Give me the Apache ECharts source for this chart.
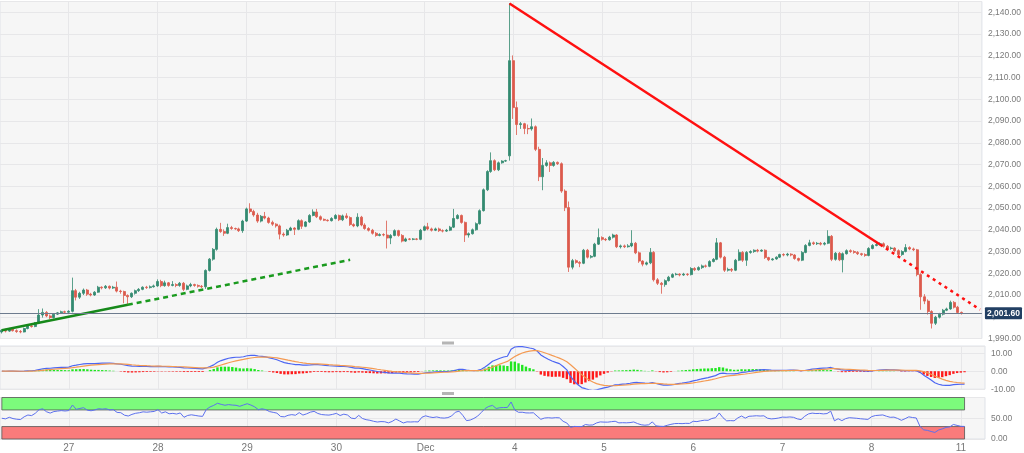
<!DOCTYPE html>
<html>
<head>
<meta charset="utf-8">
<script src="https://cdn.jsdelivr.net/npm/echarts@6.0.0/dist/echarts.min.js"></script>
<style>
  html, body { margin: 0; padding: 0; background: #fff; }
  #chart { width: 1024px; height: 453px; }
</style>
</head>
<body>
<div id="chart"></div>
<script>
// hourly bars, [open, close, low, high], grouped by the day label they fall under
const barsNov24 = [
  [1993.0, 1993.8, 1992.3, 1994.3], [1993.8, 1993.4, 1992.8, 1994.5], [1993.4, 1994.4, 1993.0, 1994.9],
  [1994.4, 1993.6, 1993.2, 1995.0], [1993.6, 1993.2, 1992.6, 1994.2], [1993.2, 1993.0, 1992.4, 1993.9],
  [1993.0, 1994.6, 1992.8, 1995.0], [1994.6, 1995.8, 1994.2, 1996.2], [1995.8, 1995.5, 1995.0, 1996.6],
  [1995.5, 1997.2, 1995.2, 1997.6], [1997.2, 2000.8, 1996.8, 2003.5], [2000.8, 2002.0, 1999.6, 2003.8],
  [2002.0, 2000.4, 1999.8, 2002.6], [2000.4, 1999.6, 1999.0, 2001.0], [1999.6, 2001.2, 1999.2, 2001.6],
  [2001.2, 2001.8, 2000.8, 2002.2], [2001.8, 2002.3, 2001.4, 2002.8], [2002.3, 2002.1, 2001.6, 2002.8]
];
const barsNov27 = [
  [2002.1, 2002.5, 2001.8, 2003.0], [2002.5, 2012.0, 2002.0, 2018.0], [2012.0, 2009.0, 2007.5, 2012.8],
  [2009.0, 2010.8, 2008.2, 2011.5], [2010.8, 2012.3, 2010.0, 2013.0], [2012.3, 2010.4, 2009.6, 2012.8],
  [2010.4, 2010.0, 2009.4, 2011.0], [2010.0, 2011.3, 2009.6, 2011.8], [2011.3, 2013.6, 2011.0, 2014.2],
  [2013.6, 2013.3, 2012.6, 2014.0], [2013.3, 2014.0, 2012.8, 2014.6], [2014.0, 2013.2, 2012.6, 2014.4],
  [2013.2, 2013.6, 2012.8, 2014.2], [2013.6, 2011.8, 2011.2, 2016.2], [2011.8, 2011.6, 2010.6, 2012.4],
  [2011.6, 2009.8, 2006.2, 2012.0], [2009.8, 2009.2, 2005.4, 2010.3], [2009.2, 2010.8, 2008.6, 2011.2],
  [2010.8, 2012.0, 2010.2, 2012.5], [2012.0, 2012.6, 2011.4, 2013.2], [2012.6, 2013.6, 2012.2, 2014.0],
  [2013.6, 2013.4, 2012.8, 2014.2], [2013.4, 2013.8, 2013.0, 2014.4], [2013.8, 2014.2, 2013.4, 2014.8]
];
const barsNov28 = [
  [2014.2, 2016.2, 2013.8, 2017.2], [2016.2, 2014.3, 2013.6, 2017.0], [2014.3, 2015.6, 2013.8, 2016.6],
  [2015.6, 2014.4, 2013.8, 2016.0], [2014.4, 2014.8, 2014.0, 2016.4], [2014.8, 2014.4, 2013.6, 2015.4],
  [2014.4, 2015.4, 2013.8, 2016.0], [2015.4, 2012.6, 2011.8, 2016.0], [2012.6, 2014.2, 2012.2, 2014.8],
  [2014.2, 2014.8, 2013.6, 2015.6], [2014.8, 2014.4, 2013.8, 2015.2], [2014.4, 2014.0, 2013.4, 2014.9],
  [2014.0, 2013.8, 2013.2, 2014.6], [2013.8, 2021.3, 2012.8, 2021.8], [2021.3, 2026.5, 2020.8, 2027.0],
  [2026.5, 2031.0, 2025.8, 2031.6], [2031.0, 2040.2, 2030.4, 2041.0], [2040.2, 2039.2, 2038.6, 2043.2],
  [2039.2, 2038.4, 2037.2, 2040.2], [2038.4, 2041.0, 2038.0, 2042.8], [2041.0, 2040.6, 2040.0, 2041.8],
  [2040.6, 2040.4, 2040.0, 2041.0], [2040.4, 2039.6, 2039.0, 2041.0], [2039.6, 2044.0, 2038.6, 2044.6]
];
const barsNov29 = [
  [2044.0, 2049.6, 2043.6, 2050.2], [2049.6, 2048.4, 2047.6, 2052.2], [2048.4, 2046.8, 2046.0, 2049.2],
  [2046.8, 2044.0, 2043.2, 2047.8], [2044.0, 2046.2, 2043.4, 2046.8], [2046.2, 2045.4, 2044.8, 2048.2],
  [2045.4, 2043.4, 2042.8, 2046.0], [2043.4, 2042.6, 2041.8, 2044.2], [2042.6, 2041.8, 2041.0, 2043.0],
  [2041.8, 2038.0, 2035.6, 2042.4], [2038.0, 2037.6, 2036.8, 2038.8], [2037.6, 2039.8, 2037.2, 2040.4],
  [2039.8, 2040.8, 2039.4, 2041.4], [2040.8, 2040.2, 2037.6, 2041.2], [2040.2, 2044.2, 2039.8, 2044.8],
  [2044.2, 2041.6, 2040.4, 2044.8], [2041.6, 2043.6, 2041.2, 2044.0], [2043.6, 2046.6, 2043.2, 2047.2],
  [2046.6, 2048.2, 2046.2, 2049.4], [2048.2, 2046.0, 2045.4, 2049.6], [2046.0, 2044.8, 2044.2, 2046.6],
  [2044.8, 2044.4, 2044.0, 2045.2], [2044.4, 2044.2, 2043.8, 2044.8], [2044.2, 2045.2, 2043.8, 2045.8]
];
const barsNov30 = [
  [2045.2, 2046.6, 2044.8, 2047.2], [2046.6, 2044.6, 2044.0, 2047.0], [2044.6, 2046.4, 2044.0, 2047.0],
  [2046.4, 2045.6, 2045.0, 2047.6], [2045.6, 2042.4, 2041.8, 2046.2], [2042.4, 2041.8, 2041.2, 2043.0],
  [2041.8, 2045.8, 2041.2, 2047.6], [2045.8, 2042.2, 2041.6, 2046.4], [2042.2, 2040.6, 2040.0, 2043.0],
  [2040.6, 2039.8, 2039.2, 2041.2], [2039.8, 2038.4, 2037.8, 2040.4], [2038.4, 2037.4, 2036.8, 2039.0],
  [2037.4, 2037.8, 2037.0, 2038.4], [2037.8, 2037.6, 2037.0, 2038.4], [2037.6, 2036.2, 2031.4, 2044.2],
  [2036.2, 2037.4, 2033.4, 2038.0], [2037.4, 2039.6, 2037.0, 2040.2], [2039.6, 2037.4, 2036.8, 2040.0],
  [2037.4, 2034.8, 2034.2, 2038.0], [2034.8, 2035.8, 2034.4, 2036.4], [2035.8, 2035.6, 2035.2, 2036.2],
  [2035.6, 2035.8, 2035.2, 2036.2], [2035.8, 2035.6, 2035.2, 2036.2], [2035.6, 2039.8, 2035.2, 2040.4]
];
const barsDec1 = [
  [2039.8, 2041.4, 2039.4, 2042.0], [2041.4, 2040.4, 2039.8, 2043.2], [2040.4, 2039.8, 2039.2, 2041.0],
  [2039.8, 2040.4, 2039.4, 2041.0], [2040.4, 2039.6, 2039.0, 2041.0], [2039.6, 2039.4, 2038.8, 2040.2],
  [2039.4, 2039.8, 2039.0, 2040.4], [2039.8, 2041.2, 2039.4, 2041.8], [2041.2, 2045.2, 2040.8, 2049.6],
  [2045.2, 2046.6, 2044.8, 2047.2], [2046.6, 2043.4, 2042.8, 2047.0], [2043.4, 2037.6, 2034.4, 2043.8],
  [2037.6, 2038.2, 2036.4, 2038.8], [2038.2, 2040.0, 2037.8, 2040.6], [2040.0, 2042.8, 2039.6, 2043.4],
  [2042.8, 2048.8, 2042.4, 2049.4], [2048.8, 2058.4, 2048.4, 2059.0], [2058.4, 2066.8, 2057.8, 2067.4],
  [2066.8, 2071.8, 2066.2, 2075.6], [2071.8, 2067.6, 2067.0, 2072.4], [2067.6, 2070.8, 2067.0, 2071.4],
  [2070.8, 2071.6, 2070.4, 2072.0], [2071.6, 2071.8, 2071.2, 2072.2], [2074.0, 2117.8, 2071.8, 2144.3]
];
const barsDec4 = [
  [2117.8, 2096.2, 2091.0, 2120.2], [2096.2, 2088.4, 2083.6, 2099.0], [2088.4, 2088.8, 2086.4, 2089.6],
  [2088.8, 2086.6, 2084.0, 2089.2], [2086.6, 2086.4, 2084.0, 2088.4], [2086.4, 2087.4, 2085.6, 2091.2],
  [2087.4, 2077.0, 2076.2, 2088.0], [2077.0, 2064.4, 2062.4, 2078.2], [2064.4, 2069.6, 2058.2, 2073.0],
  [2069.6, 2070.8, 2069.0, 2072.0], [2070.8, 2069.6, 2066.6, 2071.4], [2069.6, 2071.0, 2069.0, 2071.6],
  [2071.0, 2070.4, 2069.8, 2071.4], [2070.4, 2057.8, 2057.0, 2071.0], [2057.8, 2050.2, 2048.6, 2058.6],
  [2050.2, 2022.8, 2020.6, 2053.0], [2022.8, 2025.8, 2021.8, 2026.6], [2025.8, 2025.0, 2024.4, 2026.4],
  [2025.0, 2024.6, 2022.8, 2025.6], [2024.6, 2030.6, 2024.2, 2031.2], [2030.6, 2027.4, 2026.8, 2031.2],
  [2027.4, 2027.8, 2026.8, 2028.4], [2027.8, 2033.4, 2027.4, 2034.0], [2033.4, 2036.4, 2033.0, 2040.6]
];
const barsDec5 = [
  [2036.4, 2035.6, 2035.0, 2037.0], [2035.6, 2035.4, 2034.8, 2036.2], [2035.4, 2036.6, 2035.0, 2037.2],
  [2036.6, 2037.6, 2036.0, 2038.2], [2037.6, 2032.2, 2031.6, 2038.0], [2032.2, 2032.6, 2031.4, 2033.2],
  [2032.6, 2032.2, 2031.6, 2033.2], [2032.2, 2032.6, 2031.8, 2033.4], [2032.6, 2033.8, 2032.0, 2039.8],
  [2033.8, 2029.4, 2028.8, 2034.4], [2029.4, 2025.6, 2024.8, 2030.0], [2025.6, 2024.2, 2023.2, 2026.0],
  [2024.2, 2024.8, 2023.6, 2025.4], [2024.8, 2029.6, 2024.2, 2031.6], [2029.6, 2017.0, 2016.2, 2030.2],
  [2017.0, 2015.4, 2014.6, 2017.8], [2015.4, 2014.8, 2010.6, 2016.0], [2014.8, 2016.6, 2013.8, 2017.2],
  [2016.6, 2018.2, 2016.2, 2018.8], [2018.2, 2019.4, 2017.8, 2020.0], [2019.4, 2019.6, 2019.0, 2020.2],
  [2019.6, 2019.2, 2018.6, 2020.0], [2019.2, 2019.6, 2018.8, 2020.2], [2019.6, 2019.4, 2018.8, 2020.0]
];
const barsDec6 = [
  [2019.4, 2022.2, 2019.0, 2022.8], [2022.2, 2021.6, 2021.0, 2022.8], [2021.6, 2022.6, 2021.2, 2023.2],
  [2022.6, 2023.4, 2022.0, 2024.0], [2023.4, 2023.2, 2022.6, 2024.0], [2023.2, 2025.4, 2022.8, 2026.0],
  [2025.4, 2026.4, 2025.0, 2027.0], [2026.4, 2034.0, 2026.0, 2036.2], [2034.0, 2027.4, 2026.8, 2034.4],
  [2027.4, 2021.4, 2020.6, 2028.0], [2021.4, 2021.8, 2020.8, 2022.6], [2021.8, 2021.4, 2020.6, 2022.4],
  [2021.4, 2026.0, 2021.0, 2026.6], [2026.0, 2029.6, 2025.6, 2031.0], [2029.6, 2026.0, 2025.2, 2030.2],
  [2026.0, 2029.6, 2023.4, 2030.2], [2029.6, 2030.0, 2029.0, 2030.6], [2030.0, 2030.6, 2029.4, 2031.0],
  [2030.6, 2030.2, 2029.6, 2031.2], [2030.2, 2030.6, 2029.8, 2031.0], [2030.6, 2027.2, 2026.6, 2031.0],
  [2027.2, 2026.2, 2025.6, 2027.6], [2026.2, 2026.6, 2025.8, 2027.0], [2026.6, 2027.4, 2026.2, 2027.8]
];
const barsDec7 = [
  [2027.4, 2028.6, 2027.0, 2029.0], [2028.6, 2028.4, 2027.8, 2029.2], [2028.4, 2028.8, 2027.8, 2029.4],
  [2028.8, 2028.4, 2027.8, 2029.2], [2028.4, 2026.8, 2026.2, 2028.8], [2026.8, 2026.0, 2025.4, 2027.2],
  [2026.0, 2029.6, 2025.6, 2030.2], [2029.6, 2032.8, 2029.2, 2033.4], [2032.8, 2034.0, 2032.4, 2035.4],
  [2034.0, 2033.6, 2033.0, 2034.6], [2033.6, 2033.8, 2033.0, 2034.4], [2033.8, 2033.4, 2032.8, 2034.4],
  [2033.4, 2033.8, 2032.8, 2034.4], [2033.8, 2037.0, 2033.4, 2039.8], [2037.0, 2026.4, 2025.6, 2037.6],
  [2026.4, 2029.2, 2025.8, 2029.8], [2029.2, 2026.2, 2025.6, 2029.8], [2026.2, 2029.0, 2020.4, 2029.6],
  [2029.0, 2030.4, 2028.6, 2031.0], [2030.4, 2030.0, 2029.4, 2031.0], [2030.0, 2029.6, 2029.0, 2030.6],
  [2029.6, 2029.0, 2028.4, 2030.2], [2029.0, 2028.6, 2028.0, 2029.4], [2028.6, 2028.2, 2027.6, 2029.2]
];
const barsDec8 = [
  [2028.2, 2031.4, 2027.8, 2032.0], [2031.4, 2032.8, 2031.0, 2033.4], [2032.8, 2033.2, 2032.4, 2034.0],
  [2033.2, 2033.6, 2032.8, 2034.2], [2033.6, 2032.4, 2031.8, 2034.2], [2032.4, 2031.4, 2030.8, 2033.0],
  [2031.4, 2031.6, 2030.8, 2032.2], [2031.6, 2030.4, 2029.8, 2032.0], [2030.4, 2028.6, 2028.0, 2031.0],
  [2028.6, 2030.0, 2028.0, 2030.6], [2030.0, 2031.8, 2029.6, 2033.4], [2031.8, 2031.2, 2030.6, 2032.4],
  [2031.2, 2030.8, 2030.2, 2031.8], [2030.8, 2019.4, 2018.6, 2031.2], [2019.4, 2009.2, 2003.2, 2020.0],
  [2009.2, 2007.2, 2005.8, 2010.4], [2007.2, 2002.4, 2001.0, 2008.0], [2002.4, 1997.0, 1994.6, 2003.0],
  [1997.0, 1999.8, 1996.2, 2000.4], [1999.8, 2001.2, 1999.2, 2001.8], [2001.2, 2003.0, 2000.6, 2003.6],
  [2003.0, 2003.6, 2002.6, 2004.2], [2003.6, 2006.6, 2003.2, 2007.4], [2006.6, 2004.4, 2003.8, 2007.2]
];
const barsDec11 = [
  [2004.4, 2002.0, 2001.4, 2005.0], [2002.0, 2001.6, 2001.0, 2002.4]
];

// day labels on the time axis and the slot (hour index) where each starts
const dayLabels = ['27', '28', '29', '30', 'Dec', '4', '5', '6', '7', '8', '11'];
const dayStartSlots = [18, 42, 66, 90, 114, 138, 162, 186, 210, 234, 258];

// price axis ticks
const priceMin = 1990, priceMax = 2145, priceStep = 10;
const lastPrice = 2001.60;

// drawn trend lines: [slot, price]
const supportSolid = [[0, 1993.8], [34, 2005.5]];
const supportDashed = [[34, 2005.5], [94, 2026.2]];
const resistSolid = [[137, 2144.1], [237, 2033.2]];
const resistDotted = [[237, 2033.2], [264, 2003.3]];

// indicator bands
const rsiOverbought = [70, 100];
const rsiOversold = [0, 30];

const bars = [].concat(barsNov24, barsNov27, barsNov28, barsNov29, barsNov30, barsDec1,
  barsDec4, barsDec5, barsDec6, barsDec7, barsDec8, barsDec11);
const totalSlots = 265;
const slots = [];
for (let i = 0; i < totalSlots; i++) slots.push('h' + i);
const closes = bars.map(b => b[1]);

// MACD 12/26/9
function ema(values, period) {
  const k = 2 / (period + 1);
  const out = [];
  let prev = values[0];
  values.forEach((v, i) => {
    prev = i === 0 ? v : v * k + prev * (1 - k);
    out.push(prev);
  });
  return out;
}
const ema12 = ema(closes, 12);
const ema26 = ema(closes, 26);
const macdLine = closes.map((c, i) => ema12[i] - ema26[i]);
const signalLine = ema(macdLine, 9);
const macdHist = macdLine.map((m, i) => m - signalLine[i]);

// RSI 14 (Wilder)
function rsi(values, period) {
  const out = [50];
  let avgGain = 0.5, avgLoss = 0.5;
  for (let i = 1; i < values.length; i++) {
    const ch = values[i] - values[i - 1];
    avgGain = (avgGain * (period - 1) + Math.max(ch, 0)) / period;
    avgLoss = (avgLoss * (period - 1) + Math.max(-ch, 0)) / period;
    out.push(avgLoss === 0 ? 100 : 100 - 100 / (1 + avgGain / avgLoss));
  }
  return out;
}
const rsiLine = rsi(closes, 14);

const fmt = v => {
  const parts = Math.abs(v).toFixed(2).split('.');
  return (v < 0 ? '-' : '') + parts[0].replace(/\B(?=(\d{3})+(?!\d))/g, ',') + '.' + parts[1];
};
const isDayStart = idx => dayStartSlots.indexOf(idx) >= 0;

const upColor = '#338a70';
const downColor = '#dc5a4c';
const gridBg = '#f6f6f6';
const splitColor = '#e7e7e9';
const labelFont = 'Arial, "Liberation Sans", sans-serif';

const chart = echarts.init(document.getElementById('chart'));

const xAxisBase = (gridIndex, showLabel) => ({
  type: 'category',
  gridIndex: gridIndex,
  data: slots,
  boundaryGap: true,
  axisLine: { show: false },
  axisTick: { show: false },
  axisLabel: {
    show: showLabel,
    interval: (idx) => isDayStart(idx),
    formatter: (v, idx) => dayLabels[dayStartSlots.indexOf(idx)] || '',
    color: '#777',
    fontSize: 10,
    fontFamily: labelFont,
    margin: 4
  },
  splitLine: {
    show: true,
    interval: (idx) => isDayStart(idx),
    alignWithLabel: true,
    lineStyle: { color: splitColor, width: 1 }
  }
});

const yAxisBase = (gridIndex, min, max, step) => ({
  type: 'value',
  gridIndex: gridIndex,
  position: 'right',
  min: min,
  max: max,
  interval: step,
  axisLine: { show: false },
  axisTick: { show: false },
  axisLabel: {
    showMaxLabel: false,
    color: '#7a7a7a',
    fontSize: 8.5,
    fontFamily: labelFont,
    margin: 6,
    formatter: fmt
  },
  splitLine: { lineStyle: { color: splitColor, width: 1 } }
});

const option = {
  animation: false,
  backgroundColor: '#ffffff',
  grid: [
    { left: 0, right: 39, top: 1.5, height: 337, show: true, backgroundColor: gridBg, borderColor: '#dfe2e8', borderWidth: 1 },
    { left: 0, right: 39, top: 346, height: 43.2, show: true, backgroundColor: gridBg, borderColor: '#dfe2e8', borderWidth: 1 },
    { left: 0, right: 39, top: 397.5, height: 41.5, show: true, backgroundColor: gridBg, borderColor: '#dfe2e8', borderWidth: 1 }
  ],
  xAxis: [xAxisBase(0, false), xAxisBase(1, false), xAxisBase(2, true)],
  yAxis: [
    yAxisBase(0, priceMin, priceMax, priceStep),
    yAxisBase(1, -10, 14, 10),
    yAxisBase(2, 0, 100, 50)
  ],
  graphic: [
    { type: 'rect', left: 442, top: 341.5, shape: { width: 12, height: 3 }, style: { fill: '#b5b5b5' } },
    { type: 'rect', left: 442, top: 392, shape: { width: 12, height: 3 }, style: { fill: '#b5b5b5' } }
  ],
  series: [
    {
      name: 'XAU/USD',
      type: 'candlestick',
      xAxisIndex: 0,
      yAxisIndex: 0,
      data: bars,
      barWidth: 2.5,
      itemStyle: {
        color: upColor,
        color0: downColor,
        borderColor: upColor,
        borderColor0: downColor,
        borderWidth: 0.8
      },
      markLine: {
        silent: true,
        symbol: 'none',
        lineStyle: { color: '#6d7b8e', width: 1, type: 'solid' },
        label: {
          position: 'end',
          distance: 3,
          formatter: () => fmt(lastPrice),
          color: '#fff',
          fontWeight: 'bold',
          fontSize: 8.5,
          fontFamily: labelFont,
          backgroundColor: '#223f63',
          padding: [2, 2, 1, 2],
          borderRadius: 1
        },
        data: [{ yAxis: lastPrice }]
      }
    },
    {
      type: 'line', xAxisIndex: 0, yAxisIndex: 0, data: supportSolid, symbol: 'none',
      lineStyle: { color: '#16891a', width: 2.5 }
    },
    {
      type: 'line', xAxisIndex: 0, yAxisIndex: 0, data: supportDashed, symbol: 'none',
      lineStyle: { color: '#1a9a1e', width: 2.5, type: [5, 4] }
    },
    {
      type: 'line', xAxisIndex: 0, yAxisIndex: 0, data: resistSolid, symbol: 'none',
      lineStyle: { color: '#ff1010', width: 2.5 }
    },
    {
      type: 'line', xAxisIndex: 0, yAxisIndex: 0, data: resistDotted, symbol: 'none',
      lineStyle: { color: '#ff1010', width: 2.5, type: [3, 4] }
    },
    {
      name: 'MACD hist',
      type: 'bar',
      xAxisIndex: 1,
      yAxisIndex: 1,
      data: macdHist,
      barWidth: 2.4,
      itemStyle: {
        color: p => (p.value >= 0 ? '#1fe61f' : '#ff1a1a')
      }
    },
    {
      name: 'MACD', type: 'line', xAxisIndex: 1, yAxisIndex: 1, data: macdLine,
      symbol: 'none', lineStyle: { color: '#4d66f2', width: 1.2 }
    },
    {
      name: 'Signal', type: 'line', xAxisIndex: 1, yAxisIndex: 1, data: signalLine,
      symbol: 'none', lineStyle: { color: '#f49a52', width: 1.2 }
    },
    {
      name: 'RSI', type: 'line', xAxisIndex: 2, yAxisIndex: 2, data: rsiLine,
      symbol: 'none', lineStyle: { color: '#5c70ee', width: 1 },
      markArea: {
        silent: true,
        itemStyle: { borderColor: '#555', borderWidth: 0.8 },
        data: [
          [{ xAxis: 0, yAxis: rsiOverbought[0], itemStyle: { color: '#7cfb7c' } }, { xAxis: bars.length - 1, yAxis: rsiOverbought[1] }],
          [{ xAxis: 0, yAxis: rsiOversold[0], itemStyle: { color: '#fa7b7b' } }, { xAxis: bars.length - 1, yAxis: rsiOversold[1] }]
        ]
      }
    }
  ]
};

chart.setOption(option);
</script>
</body>
</html>
